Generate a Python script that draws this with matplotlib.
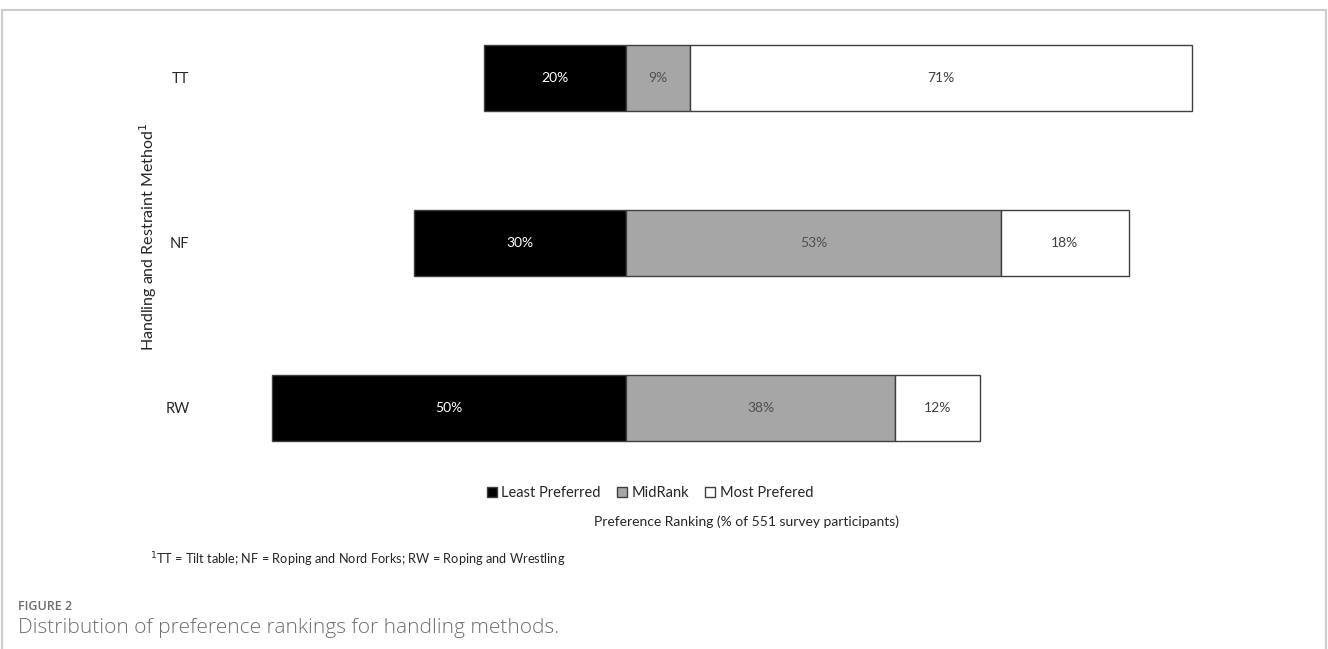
import matplotlib
matplotlib.use("Agg")
import matplotlib.pyplot as plt
from matplotlib.patches import Patch
from matplotlib.lines import Line2D

methods = ['TT', 'NF', 'RW']
least_pref = [20, 30, 50]
mid_rank = [9, 53, 38]
most_pref = [71, 18, 12]

plt.rcParams['font.family'] = ['Lato', 'DejaVu Sans']

fig = plt.figure(figsize=(13.28, 6.49), dpi=100)
W, H = 1328, 649

# axes placed in pixel terms: zero line at x=626, ~7.08 px per percent
ax = fig.add_axes([201.2 / W, 1 - 507 / H, 1062 / W, 487 / H])
ax.set_xlim(-60, 90)
ax.set_ylim(2.6, -0.35)

ypos = list(range(len(methods)))
edge = '#404040'
h = 0.4
neg = [-v for v in least_pref]
ax.barh(ypos, neg, height=h, color='black', edgecolor=edge, linewidth=1)
ax.barh(ypos, mid_rank, height=h, color='#a6a6a6', edgecolor=edge, linewidth=1)
ax.barh(ypos, most_pref, left=mid_rank, height=h, color='white', edgecolor=edge, linewidth=1)

for y, a, b, c in zip(ypos, least_pref, mid_rank, most_pref):
    ax.text(-a / 2, y, f'{a}%', ha='center', va='center', color='white', fontsize=10)
    ax.text(b / 2, y, f'{b}%', ha='center', va='center', color='#505050', fontsize=10)
    ax.text(b + c / 2, y, f'{c}%', ha='center', va='center', color='#404040', fontsize=10)

ax.set_yticks(ypos)
ax.set_yticklabels(methods, fontsize=10.5, color='#262626')
ax.tick_params(left=False, bottom=False, labelbottom=False, pad=5)
for s in ax.spines.values():
    s.set_visible(False)

fig.text(148 / W, 1 - 237 / H, 'Handling and Restraint Method$^{1}$', rotation=90,
         ha='center', va='center', fontsize=11.5, color='#262626')

handles = [Patch(facecolor='black', edgecolor=edge, label='Least Preferred'),
           Patch(facecolor='#a6a6a6', edgecolor=edge, label='MidRank'),
           Patch(facecolor='white', edgecolor=edge, label='Most Prefered')]
fig.legend(handles=handles, loc='center', bbox_to_anchor=(650 / W, 1 - 493 / H), ncol=3,
           frameon=False, fontsize=10.5, handlelength=0.7, handleheight=0.7,
           handletextpad=0.3, columnspacing=1.1, labelcolor='#262626')

fig.text(746 / W, 1 - 522 / H, 'Preference Ranking (% of 551 survey participants)',
         ha='center', va='center', fontsize=10, color='#262626')
fig.text(150 / W, 1 - 560 / H,
         '$^{1}$TT = Tilt table; NF = Roping and Nord Forks; RW = Roping and Wrestling',
         ha='left', va='center', fontsize=9.2, color='#262626')

fig.text(18 / W, 1 - 606 / H, 'FIGURE 2', ha='left', va='center', fontsize=9,
         color='#6e6e6e', family=['Open Sans', 'DejaVu Sans'], weight='semibold')
fig.text(18 / W, 1 - 628 / H, 'Distribution of preference rankings for handling methods.',
         ha='left', va='center', fontsize=15, color='#6e6e6e',
         family=['Open Sans', 'DejaVu Sans'], weight='light')

# light frame around the figure panel
fc = '#cccccc'
fig.add_artist(Line2D([2 / W, 1326 / W], [1 - 10 / H, 1 - 10 / H], color=fc, lw=1.5))
fig.add_artist(Line2D([2 / W, 2 / W], [0, 1 - 10 / H], color=fc, lw=1.5))
fig.add_artist(Line2D([1326 / W, 1326 / W], [0, 1 - 10 / H], color=fc, lw=1.5))

fig.savefig('out.png', dpi=100, facecolor='white')
